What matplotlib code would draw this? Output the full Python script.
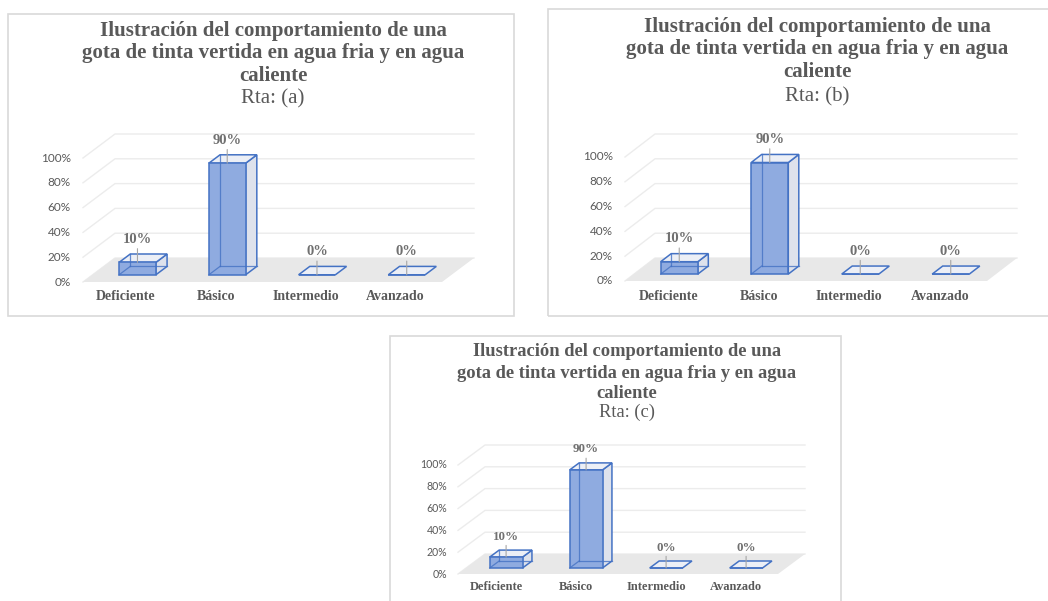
import matplotlib
matplotlib.use('Agg')
import matplotlib.pyplot as plt
from matplotlib.patches import Polygon, Rectangle

# ---------------- data ----------------
categories = ['Deficiente', 'Básico', 'Intermedio', 'Avanzado']
values_a = [10, 90, 0, 0]
values_b = [10, 90, 0, 0]
values_c = [10, 90, 0, 0]
y_ticks = [0, 20, 40, 60, 80, 100]
y_tick_labels = ['0%', '20%', '40%', '60%', '80%', '100%']
title_lines = ['Ilustración del comportamiento de una',
               'gota de tinta vertida en agua fria y en agua',
               'caliente']
subtitles = ['Rta: (a)', 'Rta: (b)', 'Rta: (c)']

# ---------------- style / layout ----------------
W, H = 1048, 601
SERIF = ['Liberation Serif', 'DejaVu Serif']
SANS = ['Lato', 'DejaVu Sans']
TXT = '#595959'
EDGE = '#4472c4'
FRONT = '#8fabe0'
SIDE = '#dee2ec'
TOP = '#eceff6'
GRID = '#ececec'
FLOOR = '#e8e8e8'

fig = plt.figure(figsize=(W / 100, H / 100), dpi=100)
fig.patch.set_facecolor('white')


def fx(px):
    return px / W


def fy(py):
    return 1 - py / H


panels = [
    dict(border=(8, 14, 514, 316), origin=(83, 282), fw=359, h100=124, depth=(32, 24),
         cx=273, ty=[31, 53, 76], ry=99, scale=1.0),
    dict(border=(548, 9, 1060, 316), origin=(625, 281), fw=362, h100=124, depth=(30, 23),
         cx=817, ty=[27, 49, 72], ry=97, scale=1.0),
    dict(border=(390, 336, 841, 612), origin=(458, 574), fw=320, h100=109, depth=(27, 20),
         cx=627, ty=[352, 373, 393], ry=412, scale=0.89),
]


def draw_panel(p, values, subtitle):
    s = p['scale']
    bx0, by0, bx1, by1 = p['border']
    fig.patches.append(Rectangle((fx(bx0), fy(by1)), (bx1 - bx0) / W, (by1 - by0) / H,
                                 transform=fig.transFigure, fill=False,
                                 edgecolor='#d9d9d9', lw=1.2))
    # titles
    for line, y in zip(title_lines, p['ty']):
        fig.text(fx(p['cx']), fy(y), line, ha='center', va='center',
                 fontsize=15 * s, fontweight='bold', family=SERIF, color=TXT)
    fig.text(fx(p['cx']), fy(p['ry']), subtitle, ha='center', va='center',
             fontsize=15 * s, family=SERIF, color=TXT)

    x0, y0 = p['origin']
    fw, h100 = p['fw'], p['h100']
    ax = fig.add_axes([fx(x0), fy(y0), fw / W, h100 / H])
    n = len(categories)
    ax.set_xlim(-0.5, n - 0.5)
    ax.set_ylim(0, 100)
    ax.axis('off')
    ddx = p['depth'][0] / fw * n
    ddy = p['depth'][1] / h100 * 100
    L, R = -0.5, n - 0.5

    # gridlines (side wall + back wall)
    for v in y_ticks:
        ax.plot([L, L + ddx, R + ddx], [v, v + ddy, v + ddy], color=GRID, lw=1,
                clip_on=False, zorder=1)
    # floor
    ax.add_patch(Polygon([(L, 0), (R, 0), (R + ddx, ddy), (L + ddx, ddy)],
                         closed=True, facecolor=FLOOR, edgecolor='none',
                         clip_on=False, zorder=2))
    # tick labels
    for v, lab in zip(y_ticks, y_tick_labels):
        ax.annotate(lab, xy=(L, v), xytext=(-12 * s, 0), textcoords='offset pixels',
                    ha='right', va='center', fontsize=8.5 * s, family=SANS,
                    color=TXT, annotation_clip=False)
    # category labels
    for i, c in enumerate(categories):
        ax.annotate(c, xy=(i, 0), xytext=(-2 * s, -15 * s), textcoords='offset pixels',
                    ha='center', va='center', fontsize=10 * s, fontweight='bold',
                    family=SERIF, color=TXT, annotation_clip=False)

    # 3D-looking bars
    w, f1, f2 = 0.41, 0.30, 0.65
    xs = [i + f1 * ddx for i in range(n)]
    for i, v in enumerate(values):
        xl1 = i - w / 2 + f1 * ddx
        xr1 = i + w / 2 + f1 * ddx
        xl2 = i - w / 2 + f2 * ddx
        xr2 = i + w / 2 + f2 * ddx
        b1, b2 = f1 * ddy, f2 * ddy
        if v > 0:
            ax.add_patch(Polygon([(xr1, b1), (xr2, b2), (xr2, b2 + v), (xr1, b1 + v)],
                                 closed=True, facecolor=SIDE, edgecolor=EDGE, lw=1.1,
                                 clip_on=False, zorder=3))
        ax.add_patch(Polygon([(xl1, b1 + v), (xr1, b1 + v), (xr2, b2 + v), (xl2, b2 + v)],
                             closed=True, facecolor=TOP, edgecolor=EDGE, lw=1.1,
                             clip_on=False, zorder=3))
    ax.bar(xs, values, width=w, bottom=f1 * ddy, color=FRONT, edgecolor=EDGE, lw=1.1,
           zorder=4, clip_on=False)
    for i, v in enumerate(values):
        if v <= 0:
            continue
        xl1 = i - w / 2 + f1 * ddx
        xl2 = i - w / 2 + f2 * ddx
        xr2 = i + w / 2 + f2 * ddx
        b1, b2 = f1 * ddy, f2 * ddy
        ax.plot([xl2, xl2], [b2, b2 + v], color=EDGE, lw=0.9, alpha=0.8, zorder=5, clip_on=False)
        ax.plot([xl2, xr2], [b2, b2], color=EDGE, lw=0.9, alpha=0.8, zorder=5, clip_on=False)
        ax.plot([xl1, xl2], [b1, b2], color=EDGE, lw=0.9, alpha=0.8, zorder=5, clip_on=False)
    # data labels with leader lines
    for i, v in enumerate(values):
        ax.annotate(f'{v}%', xy=(xs[i], f1 * ddy + v), xytext=(0, 23 * s),
                    textcoords='offset pixels', ha='center', va='center',
                    fontsize=10.5 * s, fontweight='bold', family=SERIF, color='#707070',
                    annotation_clip=False, zorder=6,
                    arrowprops=dict(arrowstyle='-', color='#a6a6a6', lw=0.8,
                                    shrinkA=0, shrinkB=0))


for p, vals, sub in zip(panels, [values_a, values_b, values_c], subtitles):
    draw_panel(p, vals, sub)

fig.savefig('out.png', dpi=100, facecolor='white')
